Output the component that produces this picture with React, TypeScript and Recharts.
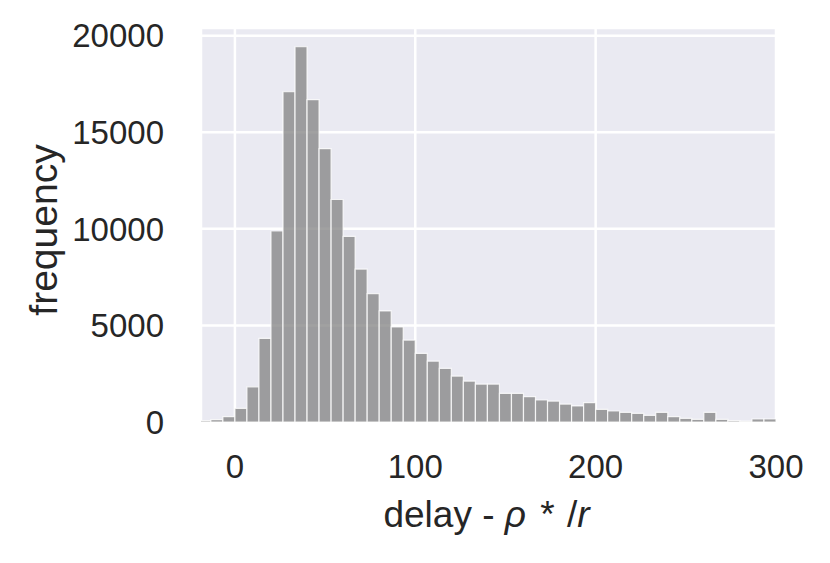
import { ComposedChart, Bar, XAxis, YAxis, CartesianGrid } from "recharts";

// histogram bins: first edge and bin width (in delay units)
const binStart = -20;
const binWidth = 20 / 3;

// counts per bin
const counts = [
  70, 120, 275, 710, 1820, 4325, 9890, 17100, 19430, 16690, 14150, 11520,
  9610, 7920, 6650, 5750, 4925, 4240, 3550, 3150, 2775, 2380, 2120, 1965,
  1965, 1480, 1480, 1310, 1140, 1085, 930, 830, 1000, 655, 570, 500, 448,
  345, 500, 275, 190, 138, 500, 138, 70, 30, 155, 155,
];

const xTicks = [0, 100, 200, 300];
const yTicks = [0, 5000, 10000, 15000, 20000];

const data = counts.map((c, i) => ({ x: binStart + binWidth * (i + 0.5), count: c }));

const FONT = "'Liberation Sans', Arial, Helvetica, sans-serif";
const TEXT = "#262626";

const XLabel = ({ viewBox }: any) => {
  const cx = viewBox.x + viewBox.width / 2 - 2;
  return (
    <text x={cx} y={viewBox.y + 105} textAnchor="middle" fontSize={37} fontFamily={FONT} fill={TEXT}>
      delay - <tspan fontStyle="italic">ρ</tspan>
      <tspan dx={4}> * </tspan>
      <tspan dx={2}>/</tspan>
      <tspan fontStyle="italic">r</tspan>
    </text>
  );
};

const YLabel = ({ viewBox }: any) => {
  const cy = viewBox.y + viewBox.height / 2 + 5;
  return (
    <text
      x={57}
      y={cy}
      transform={`rotate(-90, 57, ${cy})`}
      textAnchor="middle"
      fontSize={39}
      fontFamily={FONT}
      fill={TEXT}
    >
      frequency
    </text>
  );
};

export default function App() {
  return (
    <div style={{ width: 830, height: 563, background: "#fff" }}>
      <style>{`body{margin:0}`}</style>
      <ComposedChart
        width={830}
        height={563}
        data={data}
        margin={{ top: 28, right: 54, left: 0, bottom: 0 }}
        barCategoryGap={0}
        barGap={0}
      >
        <CartesianGrid fill="#EAEAF2" stroke="#ffffff" strokeWidth={2.5} />
        <XAxis
          dataKey="x"
          type="number"
          domain={[-18.8, 300]}
          allowDataOverflow
          ticks={xTicks}
          height={141}
          axisLine={false}
          tickLine={false}
          tickSize={0}
          tickMargin={33}
          tick={{ fill: TEXT, fontSize: 33, fontFamily: FONT }}
          label={<XLabel />}
        />
        <YAxis
          type="number"
          domain={[0, 20400]}
          ticks={yTicks}
          width={201}
          axisLine={false}
          tickLine={false}
          tickSize={0}
          tickMargin={37}
          tick={{ fill: TEXT, fontSize: 33, fontFamily: FONT }}
          label={<YLabel />}
        />
        <Bar
          dataKey="count"
          fill="#808080"
          fillOpacity={0.74}
          stroke="#ffffff"
          strokeOpacity={0.8}
          strokeWidth={1.2}
          isAnimationActive={false}
        />
      </ComposedChart>
    </div>
  );
}
